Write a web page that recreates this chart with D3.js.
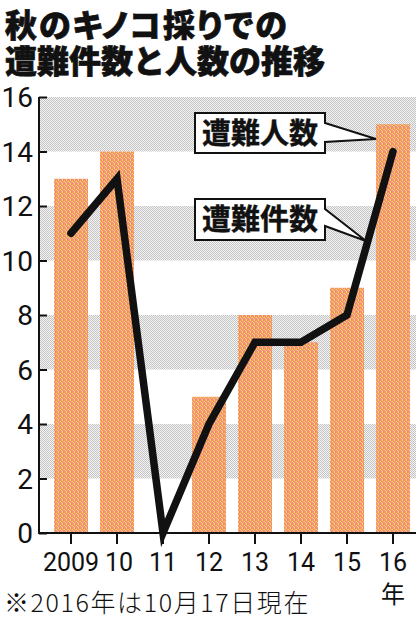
<!DOCTYPE html>
<html><head><meta charset="utf-8">
<script src="https://cdn.jsdelivr.net/npm/d3@7"></script>
<style>
html,body{margin:0;padding:0;background:#fff;}
svg{display:block;}
.jp{font-family:"Noto Sans CJK JP","Noto Sans",sans-serif;}
.num{font-family:"Liberation Sans Narrow","Roboto","Liberation Sans",sans-serif;}
</style>
</head><body>
<script>
// ---- data ----
const years = ["2009","10","11","12","13","14","15","16"];
const victims = [13,14,0,5,8,7,9,15];   // 遭難人数 (bars)
const cases   = [11,13,0,4,7,7,8,14];   // 遭難件数 (line)
const yTicks = [0,2,4,6,8,10,12,14,16];
const bands = [[14,16],[10,12],[6,8],[2,4]];
const titleLines = ["秋のキノコ採りでの","遭難件数と人数の推移"];
const legendVictims = "遭難人数";
const legendCases = "遭難件数";
const yearUnit = "年";
const note = "※2016年は10月17日現在";

const W = 420, H = 619;
const svg = d3.select("body").append("svg").attr("width",W).attr("height",H);

const defs = svg.append("defs");
// dotted orange/pink/yellow pattern for bars
const pb = defs.append("pattern").attr("id","barPat").attr("patternUnits","userSpaceOnUse")
  .attr("width",4).attr("height",4);
const pcols = [
  ["#f3a23e","#f284a0","#f7d85a","#f08a70"],
  ["#f7d85a","#ef9a3a","#f48aa2","#f2b060"],
  ["#f48aa2","#f6cf5c","#f2a040","#f590a0"],
  ["#ee9a50","#f390a4","#f8dc60","#f07e8a"]
];
pcols.forEach((row,r)=>row.forEach((c,k)=>{
  pb.append("rect").attr("x",k).attr("y",r).attr("width",1).attr("height",1).attr("fill",c);
}));
// gray checker pattern for bands
const pg = defs.append("pattern").attr("id","grayPat").attr("patternUnits","userSpaceOnUse")
  .attr("width",2).attr("height",2);
pg.append("rect").attr("width",2).attr("height",2).attr("fill","#f4f4f4");
pg.append("rect").attr("x",0).attr("y",0).attr("width",1).attr("height",1).attr("fill","#c4c4c4");
pg.append("rect").attr("x",1).attr("y",1).attr("width",1).attr("height",1).attr("fill","#c4c4c4");

// scales
const x0 = 39, xR = 416, yTop = 97, yBot = 533;
const x = d3.scaleBand().domain(years).range([48,416]).paddingInner(0.26).paddingOuter(0.13);
const y = d3.scaleLinear().domain([0,16]).range([yBot,yTop]);

// title (one text block, two lines)
const title = svg.append("text").attr("class","jp")
  .attr("font-size",32).attr("font-weight",900)
  .attr("stroke","#111").attr("stroke-width",0.7).attr("fill","#111");
title.selectAll("tspan").data(titleLines).join("tspan")
  .attr("x",5).attr("y",(d,i)=>37+i*36)
  .attr("letter-spacing",(d,i)=>i===0?2:0)
  .style("font-feature-settings",(d,i)=>i===0?"'palt'":"normal")
  .text(d=>d);

// bands
svg.append("g").selectAll("rect").data(bands).join("rect")
  .attr("x",x0).attr("width",xR-x0)
  .attr("y",d=>y(d[1])).attr("height",d=>y(d[0])-y(d[1]))
  .attr("fill","url(#grayPat)");

// bars
svg.append("g").selectAll("rect").data(years).join("rect")
  .attr("x",d=>x(d)).attr("width",x.bandwidth())
  .attr("y",(d,i)=>y(victims[i])).attr("height",(d,i)=>yBot-y(victims[i]))
  .attr("fill","url(#barPat)");

// y axis
const ya = svg.append("g").attr("transform",`translate(${x0},0)`)
  .call(d3.axisRight(y).tickValues(yTicks).tickSize(8).tickFormat(""));
ya.select(".domain").attr("stroke","#111").attr("stroke-width",2).attr("d",`M0,${yTop}V${yBot}`);
ya.selectAll(".tick line").attr("stroke","#111").attr("stroke-width",2);
svg.append("g").selectAll("text").data(yTicks).join("text")
  .attr("class","num").attr("x",33).attr("y",d=>y(d)+10)
  .attr("text-anchor","end").attr("font-size",28).attr("fill","#111").text(d=>d);

// x axis
const xa = svg.append("g").attr("transform",`translate(0,${yBot})`)
  .call(d3.axisBottom(x).tickSize(11).tickFormat(""));
xa.select(".domain").attr("stroke","#111").attr("stroke-width",2).attr("d",`M${x0-1},0H${xR}`);
xa.selectAll(".tick line").attr("stroke","#111").attr("stroke-width",2);
svg.append("g").selectAll("text").data(years).join("text")
  .attr("class","num").attr("x",(d,i)=>x(d)+x.bandwidth()/2+(i===1?2:0)).attr("y",571)
  .attr("text-anchor","middle").attr("font-size",25).attr("fill","#111").text(d=>d);
svg.append("text").attr("class","jp")
  .attr("x",x(years[years.length-1])+x.bandwidth()/2).attr("y",603)
  .attr("text-anchor","middle").attr("font-size",24).attr("fill","#111").text(yearUnit);

// callouts
function callout(bx0,by0,bx1,by1,t1,t2,tip,label,base){
  const p = `M${bx0},${by0}H${bx1}V${t1}L${tip[0]},${tip[1]}L${bx1},${t2}V${by1}H${bx0}Z`;
  svg.append("path").attr("d",p).attr("fill","#fff").attr("stroke","#111").attr("stroke-width",2)
    .attr("stroke-linejoin","miter");
  svg.append("text").attr("class","jp").attr("x",(bx0+bx1)/2).attr("y",base)
    .attr("text-anchor","middle").attr("font-size",29).attr("font-weight",700)
    .attr("stroke","#111").attr("stroke-width",0.4)
    .attr("fill","#111").text(label);
}
const cx16 = x(years[7]);
callout(195,113,325,153,123,142,[cx16,139],legendVictims,144);
callout(195,199,325,240,209,226,[366,241],legendCases,230);

// line
const line = d3.line().x((d,i)=>x(years[i])+x.bandwidth()/2).y(d=>y(d));
svg.append("path").datum(cases).attr("d",line)
  .attr("fill","none").attr("stroke","#111").attr("stroke-width",7.5)
  .attr("stroke-linejoin","miter").attr("stroke-miterlimit",10).attr("stroke-linecap","round");

// note
svg.append("text").attr("class","jp").attr("x",4).attr("y",612)
  .attr("font-size",25).attr("font-weight",300).attr("fill","#111")
  .attr("letter-spacing",1.6).text(note);
</script>
</body></html>
